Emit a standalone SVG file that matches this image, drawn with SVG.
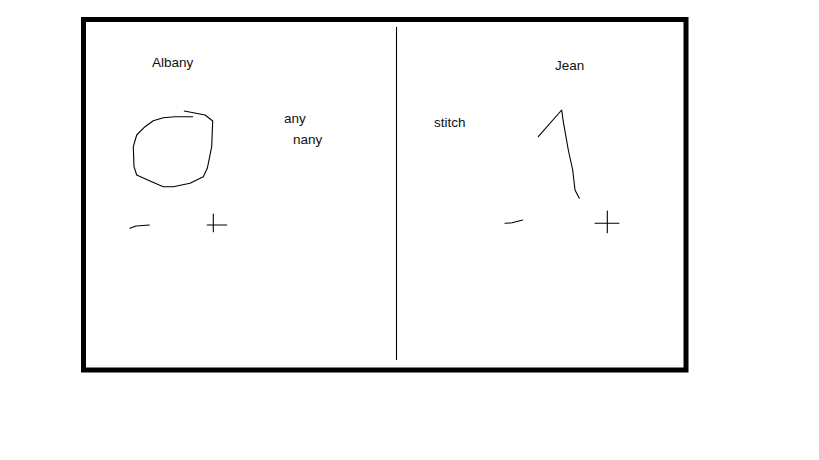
<svg xmlns="http://www.w3.org/2000/svg" width="819" height="460" viewBox="0 0 819 460">
<style>
.t{font-family:"Segoe UI","Liberation Sans",Arial,sans-serif;font-size:13.5px;fill:#111}
.s{fill:none;stroke:#000;stroke-width:1.1;stroke-linejoin:round;stroke-linecap:round}
</style>
<rect width="819" height="460" fill="#fff"/>
<rect x="83.5" y="19.5" width="602.5" height="350.5" fill="none" stroke="#000" stroke-width="5"/>
<line x1="396.5" y1="27" x2="396.5" y2="360" stroke="#000" stroke-width="1.1"/>
<g id="left">
<text class="t" x="152" y="67">Albany</text>
<text class="t" x="284" y="122.5">any</text>
<text class="t" x="293" y="143.5">nany</text>
<path class="s" d="M184.3,111 L205,115 L212.7,121 L211.7,146.7 L207.3,168.3 L203.3,176.7 L190,183.3 L173.3,186.7 L163.3,186.7 L151.7,181.7 L136.7,175 L134,166.7 L133.3,146.7 L136.7,135 L145,126.7 L153.3,120.7 L163.3,117.7 L175,116.7 L192.7,116.7"/>
<path class="s" d="M130,228.3 L136,226 L149.3,225"/>
<path class="s" d="M207.3,225 H226.7 M213.3,214 V231.7"/>
</g>
<g id="right">
<text class="t" x="555" y="70">Jean</text>
<text class="t" x="434" y="127">stitch</text>
<path class="s" d="M538.3,136.7 L561.7,110 L563.3,121.7 L568.3,150 L572.7,170 L575,190 L579.3,198.3"/>
<path class="s" d="M505,223.3 L512,222.8 L522.7,220"/>
<path class="s" d="M595,223.3 H619 M607.3,211 V232.7"/>
</g>
</svg>
